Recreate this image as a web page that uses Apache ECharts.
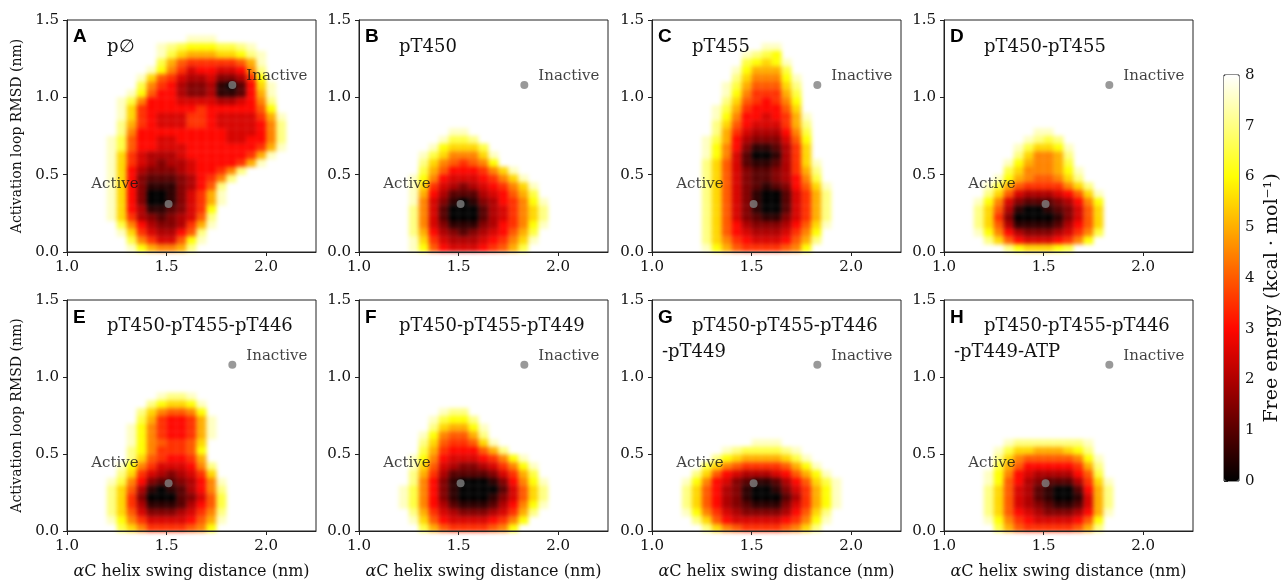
<!DOCTYPE html>
<html>
<head>
<meta charset="utf-8">
<script src="https://cdn.jsdelivr.net/npm/echarts@6/dist/echarts.min.js"></script>
<style>
  html, body { margin: 0; padding: 0; background: #fff; }
  .layer { position: absolute; left: 0; top: 0; width: 1282px; height: 581px; }
  /* soften the 0.05 nm cells so the wells read like filled contours */
  #maps { filter: blur(2px); }
</style>
</head>
<body>
<div id="maps" class="layer"></div>
<div id="chart" class="layer"></div>
<script>
// free energy maps on a 0.05 nm grid
// a row is [y index, first x index, levels]; cell (i, j) sits at x = 1 + 0.05 (i + .5), y = 0.05 (j + .5)
// level char k of LEVELS means k * 0.5 kcal/mol, '.' means no sampling (left white)
const LEVELS = '0123456789abcdefg'

const feA = [
  [27, 12, 'fff'],
  [26, 9, 'fedcccddef'],
  [25, 9, 'fdbaaabbcef'],
  [24, 9, 'da8777778af'],
  [23, 8, 'fc975665569e'],
  [22, 7, 'fb8754453347c'],
  [21, 7, 'd97643341026bf'],
  [20, 6, 'fc86643341126af'],
  [19, 5, 'fd9666555544569e'],
  [18, 5, 'fb7666667666668c'],
  [17, 5, 'fb7655577655557af'],
  [16, 5, 'ea76555776555569e'],
  [15, 5, 'e966666666655569e'],
  [14, 4, 'fd866556666655669e'],
  [13, 4, 'fd86655566666667af'],
  [12, 4, 'fb7544456666667af'],
  [11, 4, 'fb754344566667af'],
  [10, 4, 'fb64333456679e'],
  [9, 4, 'fb6322234679e'],
  [8, 4, 'fb631113468e'],
  [7, 4, 'fb63001357af'],
  [6, 4, 'fb63001357af'],
  [5, 4, 'fb64112357c'],
  [4, 4, 'fb74323458e'],
  [3, 5, 'd9643347af'],
  [2, 5, 'fb754468e'],
  [1, 6, 'd97558cf'],
  [0, 6, 'fca99ae']
]
const feB = [
  [15, 9, 'ff'],
  [14, 8, 'fdde'],
  [13, 7, 'fcbbbd'],
  [12, 6, 'fdb999bf'],
  [11, 6, 'eb98789c'],
  [10, 6, 'da866679bf'],
  [9, 5, 'fc96555679bf'],
  [8, 5, 'fb754345679bf'],
  [7, 5, 'fa642224568ad'],
  [6, 5, 'f95310134679cf'],
  [5, 5, 'e95200024579be'],
  [4, 5, 'e95200024579be'],
  [3, 5, 'e95311134679cf'],
  [2, 5, 'ea643234568ad'],
  [1, 5, 'fb754445679bf'],
  [0, 5, 'fc86555678ad']
]
const feC = [
  [26, 11, 'ff'],
  [25, 9, 'fedc'],
  [24, 9, 'dcbcf'],
  [23, 8, 'fcaaad'],
  [22, 8, 'eb999cf'],
  [21, 7, 'fda888be'],
  [20, 7, 'fc9777ad'],
  [19, 7, 'eb87679c'],
  [18, 6, 'fda76668b'],
  [17, 6, 'fc966567af'],
  [16, 6, 'eb865557ae'],
  [15, 6, 'ea7544469d'],
  [14, 5, 'fda6433358c'],
  [13, 5, 'fc96311247b'],
  [12, 5, 'fc95200147b'],
  [11, 5, 'eb85211247bf'],
  [10, 5, 'eb85322347ae'],
  [9, 5, 'eb853223469d'],
  [8, 5, 'eb853212368bf'],
  [7, 5, 'eb853100257ae'],
  [6, 5, 'eb853100257ae'],
  [5, 5, 'eb853100257ae'],
  [4, 5, 'eb853211357ae'],
  [3, 5, 'eb864333468bf'],
  [2, 5, 'eb865444579c'],
  [1, 5, 'eb97655568ae'],
  [0, 5, 'fca8777789c']
]
const feD = [
  [15, 9, 'ff'],
  [14, 8, 'fede'],
  [13, 7, 'fdbbcf'],
  [12, 7, 'eb99ae'],
  [11, 6, 'fca99ad'],
  [10, 6, 'db999acf'],
  [9, 5, 'fca9889be'],
  [8, 4, 'fda877779be'],
  [7, 4, 'eb85444568bf'],
  [6, 3, 'fc9532223469c'],
  [5, 3, 'eb8410012358b'],
  [4, 3, 'eb7300001358b'],
  [3, 3, 'eb8411112468b'],
  [2, 3, 'fc9643334579d'],
  [1, 4, 'eb86555679c'],
  [0, 6, 'ecbbbcd']
]
const feE = [
  [17, 9, 'feef'],
  [16, 8, 'ecbbcf'],
  [15, 7, 'eb9889c'],
  [14, 7, 'da7667af'],
  [13, 6, 'fc97667af'],
  [12, 6, 'fc97667af'],
  [11, 6, 'fc98778b'],
  [10, 6, 'ec97778c'],
  [9, 6, 'eb87667a'],
  [8, 5, 'fc9755569e'],
  [7, 5, 'eb7543457b'],
  [6, 4, 'fd963223469f'],
  [5, 4, 'eb841012469e'],
  [4, 4, 'eb730002358d'],
  [3, 4, 'eb741112468d'],
  [2, 4, 'eb853334579e'],
  [1, 4, 'fc97555568af'],
  [0, 5, 'db9777789c']
]
const feF = [
  [15, 8, 'fee'],
  [14, 7, 'fdcce'],
  [13, 7, 'ebaacf'],
  [12, 6, 'fc988ae'],
  [11, 6, 'eb8778bf'],
  [10, 6, 'da76668ae'],
  [9, 5, 'fc96555679cf'],
  [8, 5, 'fb854334579cf'],
  [7, 5, 'ea742222357ad'],
  [6, 5, 'e96310001369cf'],
  [5, 4, 'fd96310000258be'],
  [4, 4, 'fd96310001358be'],
  [3, 4, 'fd96421112469cf'],
  [2, 5, 'ea754333457ae'],
  [1, 5, 'fb865555679c'],
  [0, 6, 'da8777789c']
]
const feG = [
  [11, 10, 'fff'],
  [10, 7, 'feddddef'],
  [9, 6, 'ecbaaaabdf'],
  [8, 5, 'db9877778acf'],
  [7, 4, 'eb865444568acf'],
  [6, 3, 'fc96532112468bdf'],
  [5, 3, 'eb86431001357acf'],
  [4, 3, 'eb86431000247acf'],
  [3, 3, 'eb86432111357acf'],
  [2, 3, 'fc97543333468be'],
  [1, 4, 'eb8655555679cf'],
  [0, 5, 'eb98777789be']
]
const feH = [
  [11, 6, 'feeeeeeef'],
  [10, 5, 'fdbbaaabce'],
  [9, 5, 'eb9888889cf'],
  [8, 5, 'da8666667ae'],
  [7, 4, 'fc965444468d'],
  [6, 4, 'fc864322247bf'],
  [5, 4, 'eb854210026ae'],
  [4, 4, 'eb854210015ae'],
  [3, 4, 'eb854321125ae'],
  [2, 4, 'eb865433346af'],
  [1, 4, 'fc976555568c'],
  [0, 5, 'da8777778ae']
]

const panelMaps = [feA, feB, feC, feD, feE, feF, feG, feH]
const panelLetters = ['A', 'B', 'C', 'D', 'E', 'F', 'G', 'H']
const panelNames = [
  ['p\u2205'], ['pT450'], ['pT455'], ['pT450-pT455'],
  ['pT450-pT455-pT446'], ['pT450-pT455-pT449'],
  ['pT450-pT455-pT446', '-pT449'], ['pT450-pT455-pT446', '-pT449-ATP']
]
const activeState = [1.51, 0.31]
const inactiveState = [1.83, 1.08]
const xTicks = [1.0, 1.5, 2.0]
const yTicks = [0.0, 0.5, 1.0, 1.5]

const cellSize = 0.05
const serif = 'DejaVu Serif'
const hotColors = ['#000000', '#570000', '#af0000', '#ff0700', '#ff5a00', '#ffae00', '#ffff04', '#ffff82', '#ffffff']

const gridLefts = [67, 359, 652, 944]
const gridTops = [20, 300]
const gridW = 249
const gridH = 232

function toCells(rows) {
  const cells = []
  rows.forEach(([j, i0, s]) => {
    for (let k = 0; k < s.length; k++) {
      if (s[k] === '.') continue
      cells.push([1 + cellSize * (i0 + k + 0.5), cellSize * (j + 0.5), LEVELS.indexOf(s[k]) * 0.5])
    }
  })
  return cells
}

function renderCell(params, api) {
  const x = api.value(0)
  const y = api.value(1)
  const h = cellSize * 0.51
  const p = api.coord([x - h, y + h])
  const s = api.size([2 * h, 2 * h])
  return {
    type: 'rect',
    shape: { x: p[0], y: p[1], width: s[0], height: s[1] },
    style: { fill: api.visual('color') }
  }
}

function panelGrid(p) {
  return { left: gridLefts[p % 4], top: gridTops[Math.floor(p / 4)], width: gridW, height: gridH }
}

// layer 1: the maps only
const mapChart = echarts.init(document.getElementById('maps'))
mapChart.setOption({
  animation: false,
  grid: panelMaps.map((rows, p) => panelGrid(p)),
  xAxis: panelMaps.map((rows, p) => ({ type: 'value', gridIndex: p, min: 1, max: 2.25, show: false })),
  yAxis: panelMaps.map((rows, p) => ({ type: 'value', gridIndex: p, min: 0, max: 1.5, show: false })),
  visualMap: {
    type: 'continuous', show: false, min: 0, max: 8, dimension: 2,
    inRange: { color: hotColors }
  },
  series: panelMaps.map((rows, p) => ({
    type: 'custom', xAxisIndex: p, yAxisIndex: p, clip: true, silent: true,
    renderItem: renderCell, encode: { x: 0, y: 1 },
    data: toCells(rows)
  }))
})

// layer 2: frames, ticks, labels, states and colour bar
const chart = echarts.init(document.getElementById('chart'))

const grids = []
const xAxes = []
const yAxes = []
const series = []
const graphics = []

panelMaps.forEach((rows, p) => {
  const col = p % 4
  const row = Math.floor(p / 4)
  const g = panelGrid(p)
  grids.push(Object.assign(g, { show: true, borderColor: '#222', borderWidth: 1, backgroundColor: 'transparent' }))
  xAxes.push({
    type: 'value', gridIndex: p, min: 1, max: 2.25,
    name: row === 1 ? '{i|\u03b1}C helix swing distance (nm)' : '',
    nameLocation: 'middle', nameGap: 33,
    nameTextStyle: { fontFamily: serif, fontSize: 16, color: '#111', rich: { i: { fontFamily: serif, fontSize: 16, fontStyle: 'italic', color: '#111' } } },
    axisLine: { show: true, onZero: false, lineStyle: { color: '#222' } },
    axisTick: { show: true, length: 4, customValues: xTicks, lineStyle: { color: '#222' } },
    axisLabel: { customValues: xTicks, formatter: v => v.toFixed(1), fontFamily: serif, fontSize: 15, color: '#111', margin: 8 },
    splitLine: { show: false }
  })
  yAxes.push({
    type: 'value', gridIndex: p, min: 0, max: 1.5, interval: 0.5,
    name: col === 0 ? 'Activation loop RMSD (nm)' : '',
    nameLocation: 'middle', nameGap: 43,
    nameTextStyle: { fontFamily: serif, fontSize: 14, color: '#111' },
    axisLine: { show: true, onZero: false, lineStyle: { color: '#222' } },
    axisTick: { show: true, length: 4, customValues: yTicks, lineStyle: { color: '#222' } },
    axisLabel: { customValues: yTicks, formatter: v => v.toFixed(1), fontFamily: serif, fontSize: 15, color: '#111', margin: 8 },
    splitLine: { show: false }
  })
  // reference states
  series.push({
    type: 'scatter', xAxisIndex: p, yAxisIndex: p, silent: true,
    symbolSize: 8, itemStyle: { color: '#808080' },
    label: { show: true, fontFamily: serif, fontSize: 15, color: '#111' },
    data: [
      { value: activeState, label: { formatter: 'Active', position: 'left', distance: 26, offset: [0, -20] } },
      { value: inactiveState, label: { formatter: 'Inactive', position: 'right', distance: 10, offset: [0, -9] } }
    ]
  })
  graphics.push({
    type: 'text', x: g.left + 6, y: g.top + (row === 0 ? 17 : 18),
    style: { text: panelLetters[p], font: 'bold 19px "Liberation Sans"', fill: '#000', textVerticalAlign: 'middle' }
  })
  panelNames[p].forEach((line, k) => {
    graphics.push({
      type: 'text', x: g.left + (k === 0 ? 40 : 10), y: g.top + (row === 0 ? 27 : 26) + k * 26,
      style: { text: line, font: '18px "' + serif + '"', fill: '#111', textVerticalAlign: 'middle' }
    })
  })
})

// colour bar axis
grids.push({ left: 1224, top: 75, width: 15, height: 406, show: true, borderColor: '#222', borderWidth: 1, backgroundColor: 'transparent' })
xAxes.push({ type: 'value', gridIndex: 8, min: 0, max: 1, show: false })
yAxes.push({
  type: 'value', gridIndex: 8, position: 'right', min: 0, max: 8, interval: 1,
  axisLine: { show: false },
  axisTick: { show: true, length: 4, lineStyle: { color: '#222' } },
  axisLabel: { fontFamily: serif, fontSize: 15, color: '#111', margin: 6 },
  splitLine: { show: false }
})
graphics.push({
  type: 'text', x: 1272, y: 298, rotation: Math.PI / 2,
  style: { text: 'Free energy (kcal \u00b7 mol\u207b\u00b9)', font: '19px "' + serif + '"', fill: '#111', textAlign: 'center', textVerticalAlign: 'middle' }
})

chart.setOption({
  animation: false,
  backgroundColor: 'transparent',
  grid: grids,
  xAxis: xAxes,
  yAxis: yAxes,
  visualMap: {
    type: 'continuous', min: 0, max: 8, seriesIndex: [],
    calculable: false, hoverLink: false, orient: 'vertical',
    left: 1224, top: 75, itemWidth: 15, itemHeight: 406, padding: 0,
    inRange: { color: hotColors }
  },
  graphic: graphics,
  series: series
})
</script>
</body>
</html>
